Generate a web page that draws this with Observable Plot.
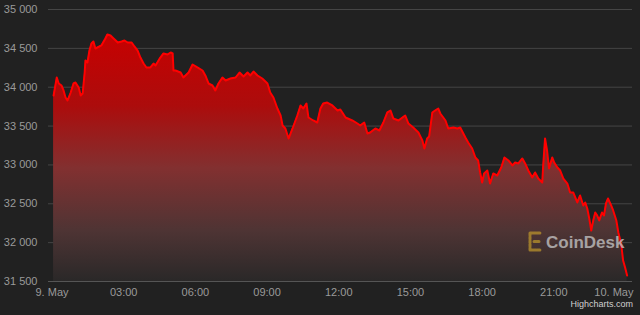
<!DOCTYPE html>
<html><head><meta charset="utf-8">
<script src="https://cdn.jsdelivr.net/npm/d3@7"></script>
<script src="https://cdn.jsdelivr.net/npm/@observablehq/plot@0.6"></script>
<style>
html,body{margin:0;padding:0;background:#212121;}
#chart{position:relative;width:640px;height:315px;}
</style></head><body><div id="chart"></div>
<script>
// time of day on 9 May (hh:mm, "24:04" = 10 May 00:04) and BTC price
const times = ["00:04","00:12","00:17","00:24","00:29","00:34","00:39","00:47","00:54","00:59",
"01:07","01:12","01:17","01:22","01:24","01:29","01:34","01:39","01:44","01:49","01:54",
"02:04","02:14","02:19","02:27","02:32","02:40","02:45","02:55","03:02","03:10","03:20",
"03:27","03:35","03:42","03:50","03:57","04:07","04:15","04:20","04:32","04:40","04:50",
"04:58","05:03","05:05","05:10","05:23","05:30","05:43","05:53","06:05","06:18","06:25",
"06:33","06:43","06:50","06:58","07:08","07:16","07:28","07:41","07:51","08:01","08:11",
"08:18","08:26","08:36","08:48","09:01","09:08","09:16","09:26","09:34","09:39","09:46",
"09:54","10:04","10:16","10:24","10:31","10:39","10:44","10:56","11:06","11:14","11:21",
"11:31","11:44","11:57","12:04","12:09","12:17","12:34","12:47","12:54","13:04","13:12",
"13:19","13:32","13:42","13:52","14:02","14:10","14:17","14:30","14:40","14:47","14:55",
"15:07","15:20","15:30","15:35","15:42","15:47","15:55","16:02","16:10","16:15","16:28",
"16:35","16:48","16:58","17:05","17:18","17:25","17:35","17:43","17:50","17:55","18:00",
"18:05","18:13","18:20","18:28","18:38","18:48","18:56","19:06","19:16","19:23","19:31",
"19:41","19:48","19:56","20:06","20:13","20:21","20:31","20:33","20:38","20:43","20:48",
"20:56","21:01","21:09","21:16","21:24","21:34","21:41","21:49","21:59","22:06","22:14",
"22:19","22:24","22:29","22:34","22:39","22:44","22:49","22:54","23:01","23:06","23:11",
"23:16","23:24","23:29","23:37","23:42","23:49","23:54","23:59","24:04"];
const prices = [33893,34125,34048,34022,33958,33868,33829,33932,34048,34061,
33996,33893,33919,34189,34344,34318,34472,34563,34588,34498,34511,
34537,34627,34678,34665,34640,34601,34575,34588,34601,34575,34575,
34524,34472,34382,34305,34254,34254,34305,34279,34382,34434,34421,
34447,34434,34215,34215,34189,34125,34189,34292,34254,34215,34151,
34048,34022,33958,34048,34125,34086,34112,34125,34189,34138,34189,
34151,34202,34151,34112,34048,33932,33868,33726,33636,33507,33469,
33340,33469,33636,33765,33726,33790,33610,33572,33546,33726,33790,
33803,33765,33700,33713,33675,33610,33572,33533,33507,33546,33404,
33417,33469,33443,33546,33675,33700,33598,33572,33610,33636,33533,
33482,33417,33314,33211,33340,33366,33675,33700,33726,33662,33572,
33469,33482,33469,33482,33353,33289,33211,33096,33057,32903,32774,
32890,32928,32761,32890,32864,32967,33096,33057,32993,33031,33019,
33083,33019,32928,32839,32903,32825,32774,32967,33340,33186,32954,
33096,33031,32967,32928,32825,32761,32645,32645,32517,32607,32478,
32517,32440,32311,32156,32285,32388,32349,32285,32388,32349,32504,
32568,32478,32414,32285,32131,31989,31770,31680,31577];
const yTicks = [31500, 32000, 32500, 33000, 33500, 34000, 34500, 35000];
const xTickHours = [0, 3, 6, 9, 12, 15, 18, 21, 24];
const dayLabels = {0: "9. May", 24: "10. May"};

const base = new Date(2022, 4, 9);
function toDate(hm){ const [h,m] = hm.split(":").map(Number); return new Date(base.getTime() + (h*60+m)*60000); }
const data = times.map((t,i)=>({date: toDate(t), price: prices[i]}));
const xTicks = xTickHours.map(h => new Date(base.getTime()+h*3600000));
const fmtY = d => d3.format(",")(d).replace(",", " ");
const fmtX = d => { const h = Math.round((d - base)/3600000); return dayLabels[h] ?? d3.timeFormat("%H:%M")(d); };

const chart = Plot.plot({
  width: 640, height: 315,
  marginLeft: 48, marginRight: 8, marginTop: 9, marginBottom: 34,
  style: {background: "#212121", color: "#9a9a9a", fontFamily: "'Liberation Sans', Arial, sans-serif", fontSize: "11px", overflow: "visible"},
  x: {type: "time", domain: [xTicks[0], xTicks[xTicks.length-1]], range: [51.5, 625]},
  y: {domain: [31500, 35000]},
  marks: [
    Plot.ruleY(yTicks.slice(1), {stroke: "#454545", strokeWidth: 1}),
    Plot.areaY(data, {x: "date", y1: 31500, y2: "price", fill: "url(#priceGrad)"}),
    Plot.ruleY([31500], {stroke: "#555"}),
    Plot.lineY(data, {x: "date", y: "price", stroke: "#ff0000", strokeWidth: 2, strokeLinejoin: "round"}),
    Plot.axisY({ticks: yTicks, tickSize: 0, tickPadding: 11, tickFormat: fmtY, label: null}),
    Plot.axisX({ticks: xTicks, tickSize: 0, tickPadding: 7, tickFormat: fmtX, label: null})
  ]
});
document.getElementById("chart").appendChild(chart);

const svg = d3.select(chart);
// keep the last date label inside the chart, as Highcharts does
svg.selectAll("text").filter(function(){ return this.textContent === dayLabels[24]; })
  .attr("text-anchor", "end").attr("dx", 8);

const defs = svg.insert("defs", ":first-child");
const grad = defs.append("linearGradient").attr("id", "priceGrad")
  .attr("gradientUnits", "userSpaceOnUse").attr("x1", 0).attr("x2", 0).attr("y1", 30).attr("y2", 281);
[[0, "rgb(200,0,0)"], [0.3, "rgb(172,12,12)"], [0.55, "rgb(130,48,48)"], [0.8, "rgb(78,52,52)"], [1, "rgb(42,40,40)"]]
  .forEach(([o, c]) => grad.append("stop").attr("offset", o).attr("stop-color", c));

// watermark
const wm = svg.append("g").attr("opacity", 0.75);
const gold = "#b8922c";
wm.append("path").attr("d", "M530,233 H541 M530,233 V250 M530,250 H541 M534,241.5 H539")
  .attr("stroke", gold).attr("stroke-width", 3).attr("stroke-linecap", "round").attr("fill", "none")
  .attr("stroke-dasharray", "2.5,1.2");
wm.append("text").attr("x", 546).attr("y", 248).attr("text-anchor", "start").text("CoinDesk")
  .attr("fill", "#c8c8c8").attr("font-size", 17).attr("font-weight", "bold")
  .attr("font-family", "'Liberation Sans', Arial, sans-serif");
// credits
svg.append("text").attr("x", 633).attr("y", 307).attr("text-anchor", "end").text("Highcharts.com")
  .attr("fill", "#d0d0d0").attr("font-size", 9).attr("font-family", "'Liberation Sans', Arial, sans-serif");
</script></body></html>
